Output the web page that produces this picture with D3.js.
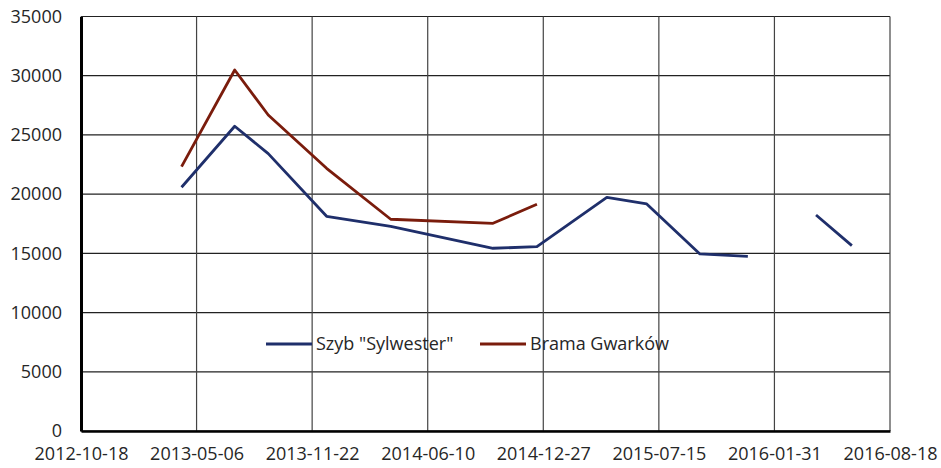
<!DOCTYPE html>
<meta charset="utf-8">
<script src="https://d3js.org/d3.v7.min.js"></script>
<style>
  body { margin: 0; background: #fff; }
  text { font-family: "Open Sans", sans-serif; fill: #262626; }
</style>
<div id="chart"></div>
<script>
  // data
  var dates = ["2013-04-10", "2013-07-11", "2013-09-07", "2013-12-17", "2014-04-07",
               "2014-10-01", "2014-12-16", "2015-04-16", "2015-06-24", "2015-09-24",
               "2015-12-16", "2016-02-15", "2016-04-12", "2016-06-13"];
  var szyb  = [20580, 25730, 23420, 18130, 17270, 15430, 15560, 19730, 19170, 14950, 14750, null, 18240, 15650];
  var brama = [22320, 30480, 26680, 22180, 17880, 17540, 19140, null, null, null, null, null, null, null];
  var seriesNames = ['Szyb "Sylwester"', "Brama Gwarków"];
  var seriesColors = ["#1f2f6b", "#7a1c0c"];
  var xTickLabels = ["2012-10-18", "2013-05-06", "2013-11-22", "2014-06-10", "2014-12-27",
                     "2015-07-15", "2016-01-31", "2016-08-18"];
  var yTicks = [0, 5000, 10000, 15000, 20000, 25000, 30000, 35000];

  var margin = { top: 16.5, right: 51, bottom: 37, left: 81 },
      width = 941 - margin.left - margin.right,
      height = 468 - margin.top - margin.bottom;

  var parse = d3.utcParse("%Y-%m-%d");

  var svg = d3.select("#chart")
      .append("svg")
      .attr("width", 941)
      .attr("height", 468)
      .append("g")
      .attr("transform", "translate(" + margin.left + "," + margin.top + ")");

  var x = d3.scaleUtc()
      .domain([parse(xTickLabels[0]), parse(xTickLabels[xTickLabels.length - 1])])
      .range([0, width]);

  var y = d3.scaleLinear()
      .domain([0, 35000])
      .range([height, 0]);

  // horizontal grid
  svg.append("g")
      .selectAll("line")
      .data(yTicks)
      .enter()
      .append("line")
      .attr("x1", 0)
      .attr("x2", width)
      .attr("y1", function (d) { return y(d); })
      .attr("y2", function (d) { return y(d); })
      .attr("stroke", "#222")
      .attr("stroke-width", 1.2);

  // vertical grid
  svg.append("g")
      .selectAll("line")
      .data(xTickLabels)
      .enter()
      .append("line")
      .attr("x1", function (d) { return x(parse(d)); })
      .attr("x2", function (d) { return x(parse(d)); })
      .attr("y1", 0)
      .attr("y2", height)
      .attr("stroke", "#444")
      .attr("stroke-width", 1.2);

  // X axis
  var xAxis = svg.append("g")
      .attr("transform", "translate(0," + height + ")")
      .call(d3.axisBottom(x)
          .tickValues(xTickLabels.map(parse))
          .tickSize(0)
          .tickPadding(16)
          .tickFormat(d3.utcFormat("%Y-%m-%d")));
  xAxis.select(".domain").attr("stroke", "#000").attr("stroke-width", 2.5);
  xAxis.selectAll("text").style("font-size", "18px").attr("fill", "#262626");

  // Y axis
  var yAxis = svg.append("g")
      .call(d3.axisLeft(y)
          .tickValues(yTicks)
          .tickSize(0)
          .tickPadding(19)
          .tickFormat(d3.format("d")));
  yAxis.select(".domain").attr("stroke", "#000").attr("stroke-width", 3);
  yAxis.selectAll("text").style("font-size", "18px").attr("fill", "#262626");

  // lines
  var allSeries = [szyb, brama];
  allSeries.forEach(function (values, i) {
      var pts = dates.map(function (d, j) { return { date: parse(d), value: values[j] }; });
      var line = d3.line()
          .defined(function (d) { return d.value !== null; })
          .x(function (d) { return x(d.date); })
          .y(function (d) { return y(d.value); });
      svg.append("path")
          .datum(pts)
          .attr("fill", "none")
          .attr("stroke", seriesColors[i])
          .attr("stroke-width", 2.8)
          .attr("stroke-linejoin", "round")
          .attr("d", line);
  });

  // legend inside the plot
  var legend = svg.append("g")
      .attr("transform", "translate(" + (266 - margin.left) + "," + (344 - margin.top) + ")");
  var legendX = [0, 214];
  seriesNames.forEach(function (name, i) {
      legend.append("line")
          .attr("x1", legendX[i])
          .attr("x2", legendX[i] + 46)
          .attr("y1", 0)
          .attr("y2", 0)
          .attr("stroke", seriesColors[i])
          .attr("stroke-width", 2.8);
      legend.append("text")
          .attr("x", legendX[i] + 50)
          .attr("y", 0)
          .attr("dy", "0.35em")
          .style("font-size", "18px")
          .text(name);
  });
</script>
